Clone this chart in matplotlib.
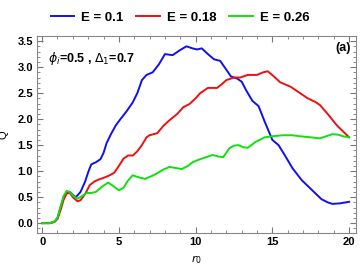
import numpy as np
import matplotlib.pyplot as plt
from matplotlib.ticker import MultipleLocator

plt.rcParams['font.family'] = ['Liberation Sans', 'DejaVu Sans']

# curve values
r_blue = [0, 0.5, 0.8, 1.0, 1.2, 1.4, 1.6, 1.8, 2.0, 2.2, 2.5, 2.8, 3.0, 3.2, 3.5, 3.8, 4.0,
          4.2, 4.5, 4.8, 5.1, 5.5, 5.9, 6.2, 6.5, 6.8, 7.2, 7.6, 8.0, 8.5, 9.0, 9.4, 9.8,
          10.1, 10.4, 10.8, 11.2, 11.6, 12.0, 12.3, 12.7, 13.0, 13.3, 13.7, 14.1, 14.5,
          15.0, 15.4, 15.8, 16.3, 16.9, 17.6, 18.2, 18.6, 18.9, 19.4, 20]
q_blue = [0, 0.0, 0.03, 0.1, 0.3, 0.5, 0.6, 0.6, 0.54, 0.5, 0.6, 0.8, 0.98, 1.13, 1.17, 1.23,
          1.35, 1.54, 1.72, 1.88, 2.0, 2.15, 2.32, 2.5, 2.75, 2.85, 2.9, 3.05, 3.25, 3.23,
          3.33, 3.4, 3.36, 3.34, 3.36, 3.25, 3.15, 3.12, 2.95, 2.82, 2.78, 2.72, 2.55, 2.35,
          2.25, 1.95, 1.6, 1.5, 1.31, 1.06, 0.83, 0.63, 0.46, 0.4, 0.37, 0.38, 0.41]

r_red = [0, 0.5, 0.8, 1.0, 1.2, 1.4, 1.6, 1.8, 2.0, 2.3, 2.5, 2.8, 3.1, 3.4, 3.7, 4.0, 4.4,
         4.7, 5.0, 5.3, 5.6, 5.9, 6.2, 6.5, 6.8, 7.0, 7.5, 7.9, 8.3, 8.8, 9.2, 9.6, 10.0,
         10.3, 10.8, 11.4, 11.7, 12.0, 12.5, 12.9, 13.4, 14.0, 14.4, 14.7, 15.1, 15.5,
         16.2, 16.7, 17.3, 17.8, 18.1, 18.6, 19.2, 20]
q_red = [0, 0, 0.02, 0.08, 0.25, 0.45, 0.57, 0.58, 0.5, 0.42, 0.44, 0.56, 0.73, 0.8, 0.84,
         0.87, 0.92, 0.97, 1.1, 1.24, 1.3, 1.3, 1.38, 1.5, 1.65, 1.69, 1.73, 1.87, 1.98, 2.1,
         2.23, 2.29, 2.4, 2.5, 2.6, 2.6, 2.67, 2.75, 2.8, 2.8, 2.85, 2.85, 2.9, 2.92, 2.82,
         2.71, 2.62, 2.52, 2.4, 2.33, 2.27, 2.1, 1.88, 1.65]

r_green = [0, 0.5, 0.8, 1.0, 1.2, 1.4, 1.6, 1.8, 2.0, 2.3, 2.6, 2.9, 3.2, 3.5, 3.9, 4.3, 4.6,
           5.0, 5.3, 5.6, 5.9, 6.3, 6.7, 7.1, 7.5, 7.9, 8.3, 8.7, 9.1, 9.5, 9.8, 10.2, 10.5,
           11.1, 11.5, 11.8, 12.2, 12.5, 12.8, 13.1, 13.4, 13.9, 14.5, 15.0, 15.7, 16.3,
           16.8, 17.5, 18.1, 18.5, 18.9, 19.3, 19.6, 20]
q_green = [0, 0, 0.03, 0.1, 0.32, 0.52, 0.62, 0.6, 0.53, 0.47, 0.52, 0.58, 0.58, 0.6, 0.7,
           0.78, 0.72, 0.63, 0.68, 0.82, 0.92, 0.88, 0.85, 0.9, 0.96, 1.03, 1.08, 1.06, 1.04,
           1.1, 1.17, 1.22, 1.25, 1.31, 1.28, 1.27, 1.44, 1.49, 1.5, 1.46, 1.45, 1.56, 1.65,
           1.67, 1.69, 1.69, 1.67, 1.65, 1.63, 1.67, 1.71, 1.7, 1.67, 1.65]

labels = ['E = 0.1', 'E = 0.18', 'E = 0.26']
colors = ['#1010ee', '#ee1010', '#10e010']

fig = plt.figure(figsize=(3.6, 2.7), dpi=100)
ax = fig.add_axes([0.103, 0.137, 0.886, 0.730])

for (r, q), lab, c in zip([(r_blue, q_blue), (r_red, q_red), (r_green, q_green)], labels, colors):
    ax.plot(r, q, color=c, lw=1.4, label=lab)

ax.set_xlim(-0.33, 20.45)
ax.set_ylim(-0.19, 3.6)
ax.xaxis.set_major_locator(MultipleLocator(5))
ax.xaxis.set_minor_locator(MultipleLocator(1))
ax.yaxis.set_major_locator(MultipleLocator(0.5))
ax.yaxis.set_minor_locator(MultipleLocator(0.1))
ax.tick_params(which='both', direction='in', top=True, right=True, color='#777777',
               labelsize=8, pad=3)
ax.tick_params(which='major', length=4)
ax.tick_params(which='minor', length=2)
for lbl in ax.get_xticklabels() + ax.get_yticklabels():
    lbl.set_fontweight('bold')
ax.yaxis.set_major_formatter(plt.FormatStrFormatter('%.1f'))
for s in ax.spines.values():
    s.set_color('#888888')
    s.set_linewidth(0.8)

ax.set_xlabel('$r_0$', fontsize=8, labelpad=4)
ax.set_ylabel('Q', fontsize=8, labelpad=6)

ax.text(0.035, 0.93, r'$\phi_i$=0.5 , $\Delta_1$=0.7', transform=ax.transAxes,
        fontsize=9, fontweight='bold', va='top', ha='left')
ax.text(0.985, 0.97, '(a)', transform=ax.transAxes, fontsize=9, fontweight='bold',
        va='top', ha='right')

fig.legend(loc='upper center', bbox_to_anchor=(0.5, 1.0), ncol=3, frameon=False,
           prop={'weight': 'bold', 'size': 9.5}, handlelength=1.8, columnspacing=1.0,
           handletextpad=0.5)

fig.savefig('out.png', dpi=100)
